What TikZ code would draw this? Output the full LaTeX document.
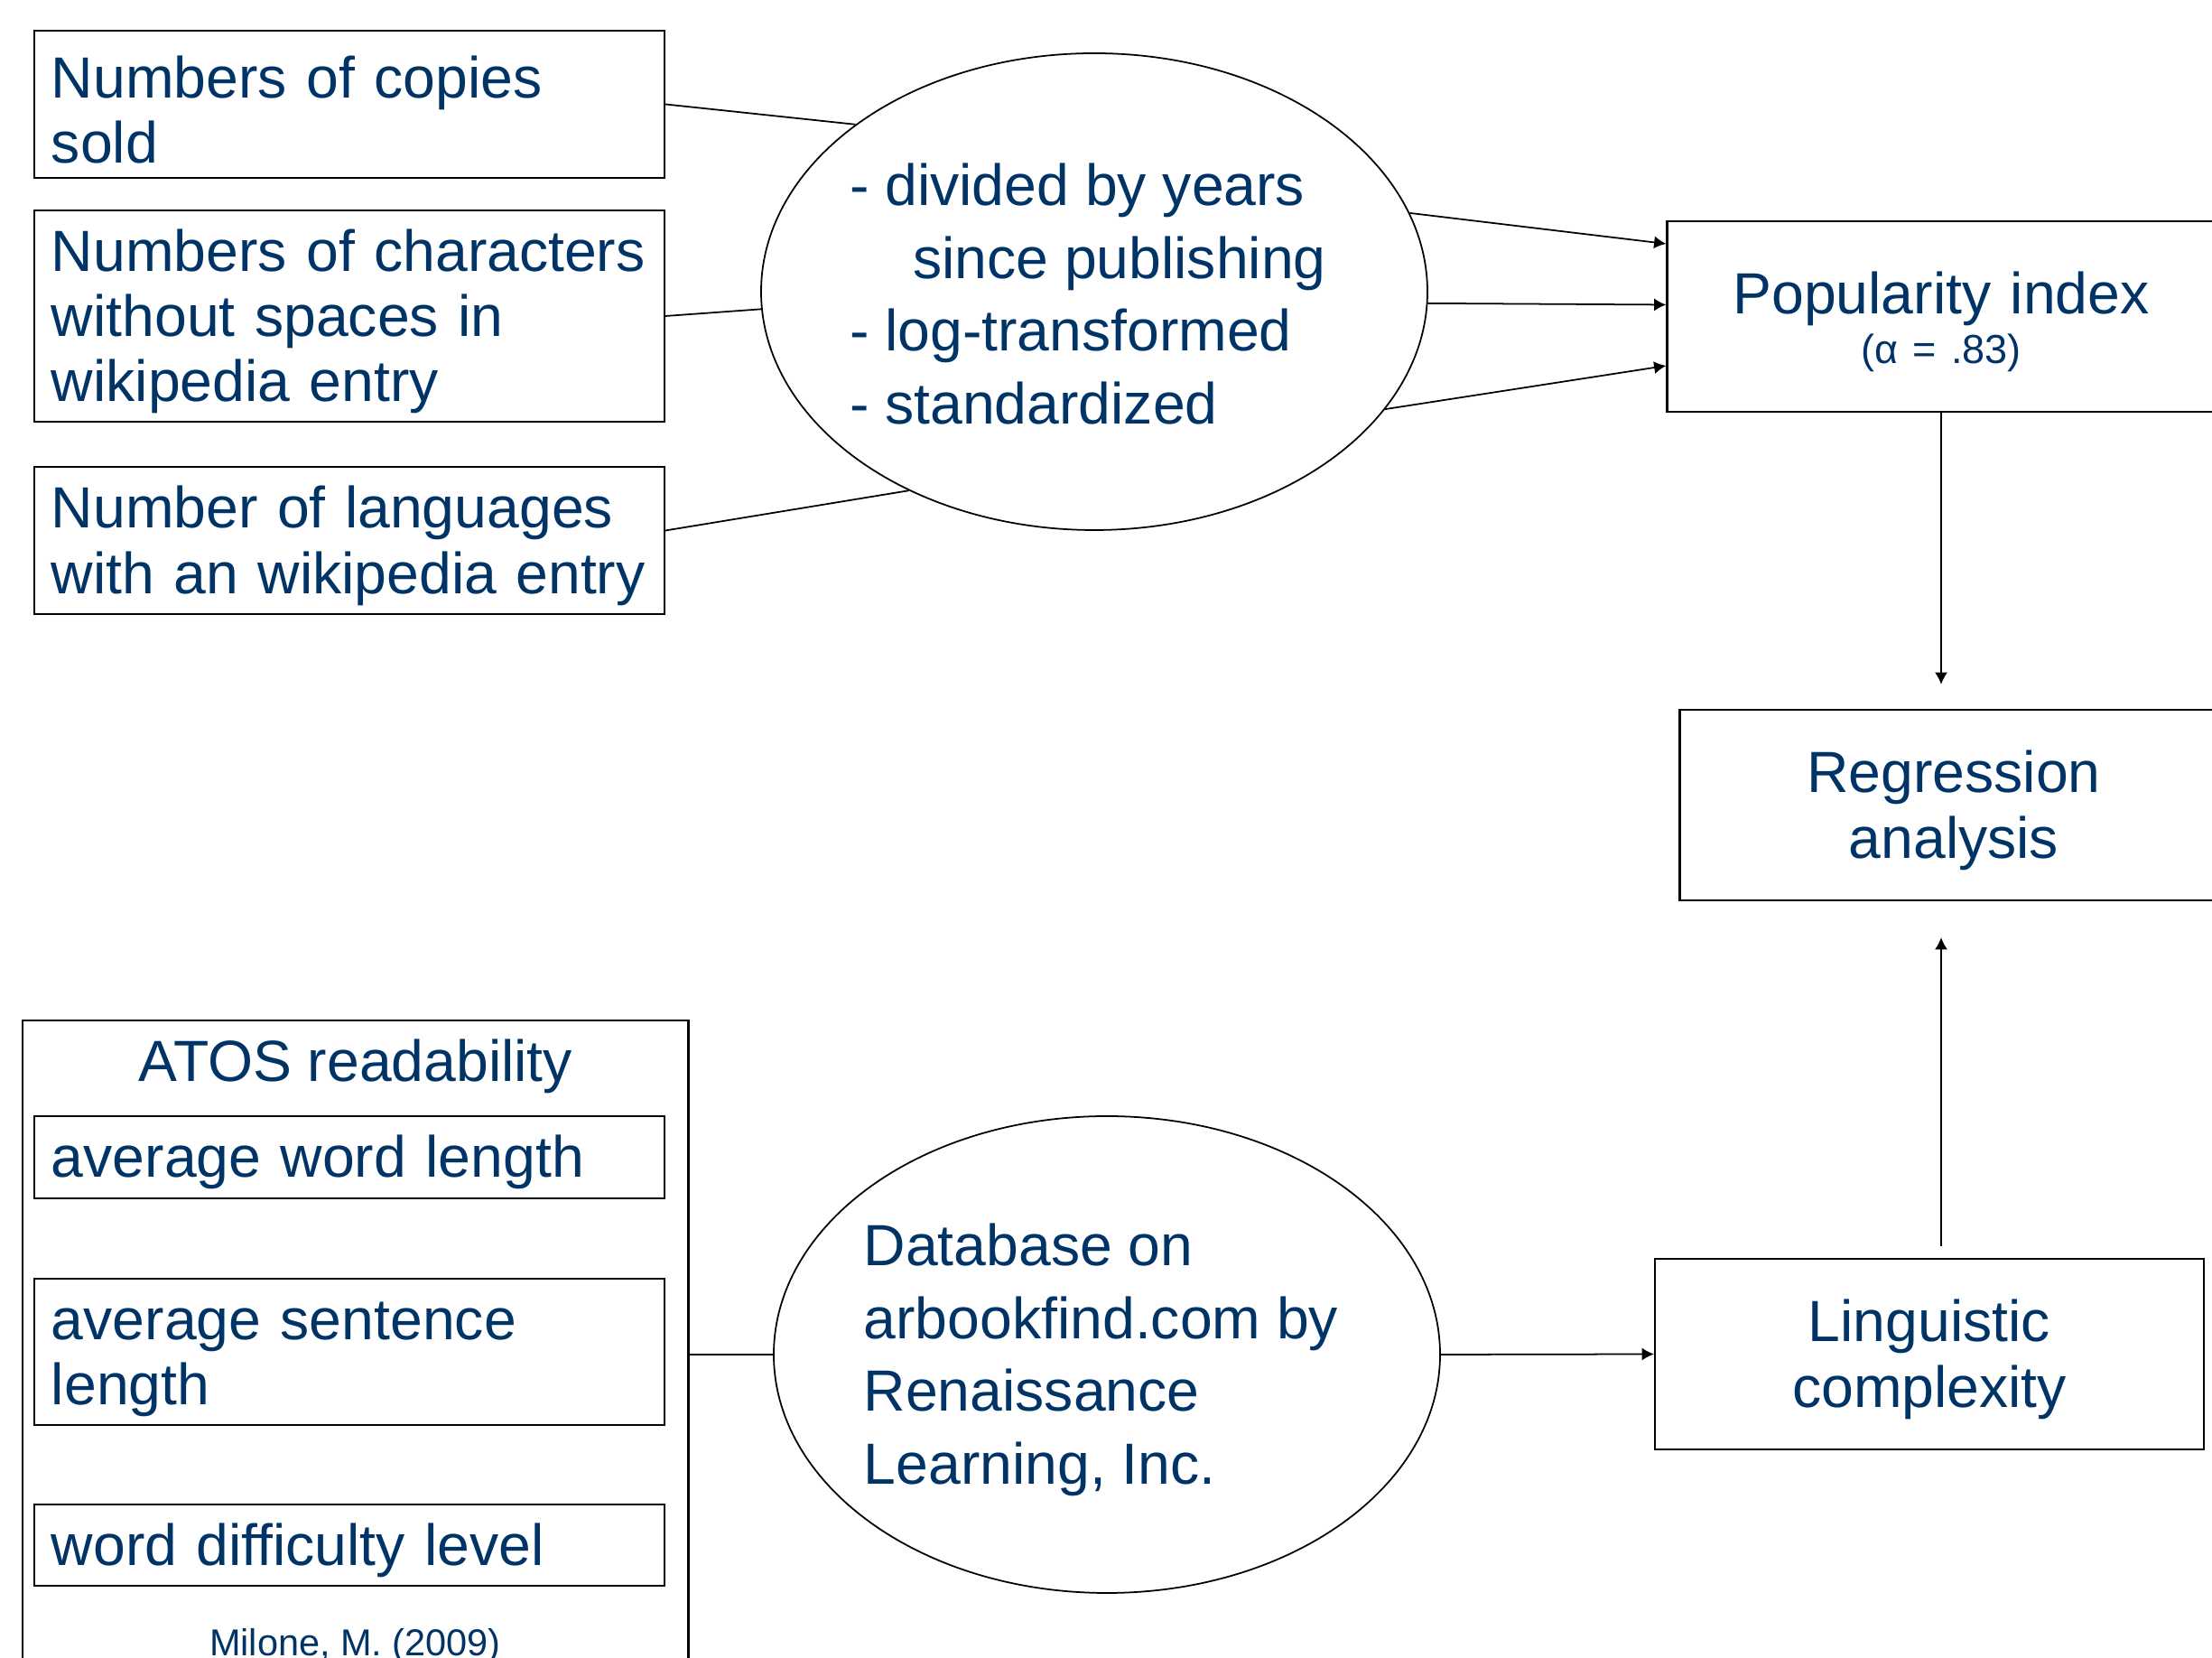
\documentclass[tikz,border=0pt]{standalone}
\usepackage{fontspec}
\setmainfont{Liberation Sans}
\usepackage{xcolor}
\usepackage{tikz}
\usetikzlibrary{shapes.geometric,arrows.meta}
\definecolor{navy}{RGB}{0,51,102}
\newcommand{\bigtext}{\fontsize{18.3}{20.6}\selectfont}
\newcommand{\ovaltext}{\fontsize{18.3}{22.9}\selectfont}
\newcommand{\smalltext}{\fontsize{12.8}{15}\selectfont}
\newcommand{\citetext}{\fontsize{11.8}{14}\selectfont}
\newcommand{\toplift}{\rule{0pt}{16.6pt}}

\begin{document}
\begin{tikzpicture}[
		item/.style={draw, line width=0.6pt, text=navy, font=\bigtext, text width=6.6cm, align=left, inner xsep=0.19cm, inner ysep=0pt, minimum height=#1, execute at begin node=\toplift},
		result/.style={draw, line width=0.6pt, text=navy, font=\bigtext, text width=5.9cm, align=center, inner sep=0pt, minimum width=6.07cm, minimum height=2.11cm, execute at begin node=\toplift},
		oval/.style={draw, ellipse, line width=0.5pt, inner sep=0pt, minimum width=7.38cm, minimum height=5.28cm},
		ovaltxt/.style={text=navy, font=\ovaltext, align=left, inner sep=0pt},
		arr/.style={-{Latex[length=3.8pt,width=4pt]}, line width=0.5pt},
		link/.style={line width=0.5pt}]
				
				\useasboundingbox (0,0) rectangle (24.5,18.36);
				
				%Popularity measures
				\node[item=1.63cm] (copies) at (3.87,17.205) {Numbers of copies\\sold};
				\node[item=2.34cm] (chars) at (3.87,14.86) {Numbers of characters\\without spaces in\\wikipedia entry};
				\node[item=1.63cm] (langs) at (3.87,12.375) {Number of languages\\with an wikipedia entry};
				
				%Transformation
				\node[oval] (transform) at (12.12,15.13) {};
				\node[ovaltxt] (steps) at ([xshift=-0.07cm, yshift=-0.025cm]transform.center) {- divided by years\\\hspace*{0.7cm}since publishing\\- log-transformed\\- standardized};
				
				%Right column
				\node[result] (pop) at (21.5,14.855) {Popularity index\\[-5pt]{\smalltext(α\hspace{4.6pt}=\hspace{4.6pt}.83)}};
				\node[result] (reg) at (21.64,9.445) {Regression\\analysis};
				\node[result, minimum width=6.08cm] (ling) at (21.37,3.365) {Linguistic\\complexity};
				
				%ATOS readability
				\node[draw, line width=0.6pt, minimum width=7.375cm, minimum height=7.7cm] (atos) at (3.9375,3.21) {};
				\node[text=navy, font=\bigtext, anchor=base] (atostitle) at (3.94,6.38) {ATOS readability};
				\node[item=0.91cm] (wordlen) at (3.87,5.545) {average word length};
				\node[item=1.62cm] (sentlen) at (3.87,3.39) {average sentence\\length};
				\node[item=0.90cm] (worddiff) at (3.87,1.25) {word difficulty level};
				\node[text=navy, font=\citetext, anchor=base] (source) at (3.935,0.02) {Milone, M. (2009)};
				
				%Database
				\node[oval] (db) at (12.26,3.36) {};
				\node[ovaltxt] (dbtxt) at ([xshift=-0.065cm, yshift=-0.06cm]db.center) {Database on\\arbookfind.com by\\Renaissance\\Learning, Inc.};
				
				%Lines
				\draw[link] (copies.east) -- (transform.145.8);
				\draw[link] (chars.east) -- (transform.183.9);
				\draw[link] ([yshift=0.11cm]langs.east) -- (transform.227.1);
				\draw[arr] (transform.14.9) -- ([yshift=0.805cm]pop.west);
				\draw[arr] (transform.-2.4) -- ([yshift=0.13cm]pop.west);
				\draw[arr] (transform.-22.4) -- ([yshift=-0.545cm]pop.west);
				\draw[arr, shorten >=0.27cm] (pop.south) -- (pop.south |- reg.north);
				\draw[link] (atos.east |- db.west) -- (db.west);
				\draw[arr] (db.east) -- (ling.west);
				\draw[arr, shorten <=0.13cm, shorten >=0.4cm] (pop.south |- ling.north) -- (pop.south |- reg.south);
			\end{tikzpicture}
\end{document}
